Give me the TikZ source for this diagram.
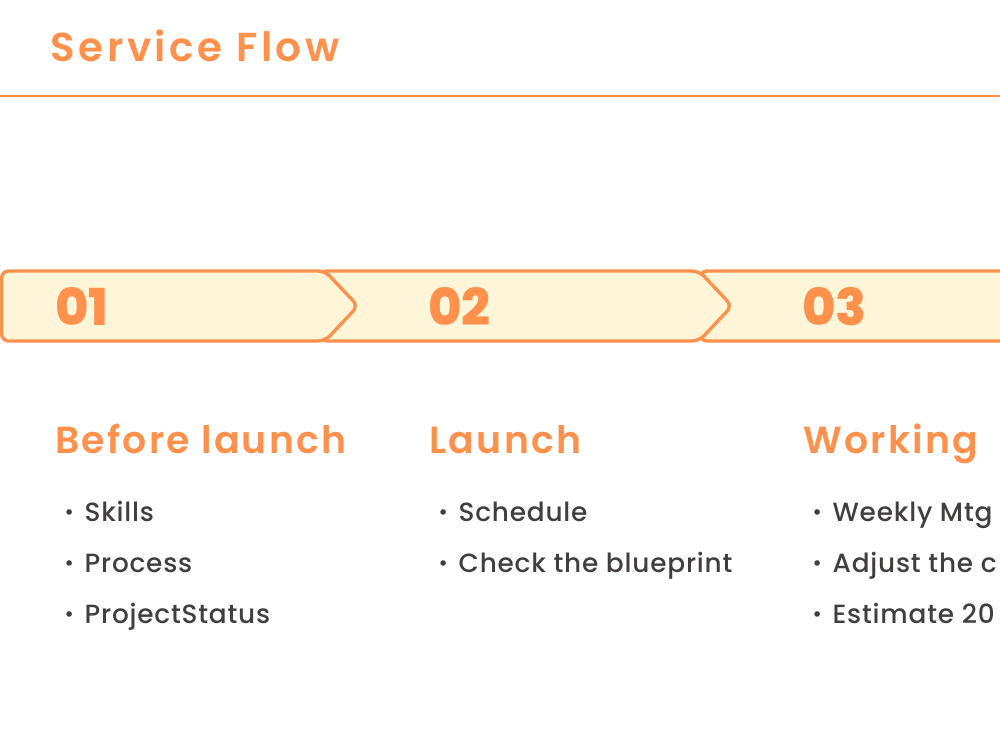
\documentclass[tikz,border=0pt]{standalone}
\usepackage{fontspec}
\setmainfont{Poppins}
\newfontfamily\semifont{Poppins SemiBold}
\newfontfamily\medfont{Poppins Medium}
\newfontfamily\heavyfont{Poppins ExtraBold}
\usetikzlibrary{positioning}
\definecolor{flowOrange}{RGB}{255,145,77}
\definecolor{flowCream}{RGB}{255,246,217}
\definecolor{itemGray}{RGB}{66,62,62}

\tikzset{
  segline/.style={draw=flowOrange,fill=flowCream,line width=1.9pt,rounded corners=4pt,line join=round},
  stepnum/.style={anchor=base west,text=flowOrange,font=\heavyfont\fontsize{29}{30}\selectfont,inner sep=0pt},
  stephead/.style={anchor=base west,text=flowOrange,font=\semifont\fontsize{21.5}{24}\selectfont\addfontfeatures{LetterSpace=6},inner sep=0pt},
  stepitem/.style={anchor=base west,text=itemGray,font=\medfont\fontsize{15}{18}\selectfont\addfontfeatures{LetterSpace=3},inner sep=0pt}
}
\newcommand\flowdot{\raisebox{1pt}{\fontsize{12}{12}\selectfont\textbullet}\hspace{6pt}}

\begin{document}
\begin{tikzpicture}[x=0.2mm,y=-0.2mm]
\useasboundingbox[clip] (0,0) rectangle (1000,750);

%% ── title and rule ───────────────────────────────────────────
\node[anchor=base west,text=flowOrange,inner sep=0pt,
  font=\semifont\fontsize{23}{26}\selectfont\addfontfeatures{LetterSpace=9}]
  (title) at (50,62) {Service Flow};
\draw[flowOrange,line width=1.3pt] (-5,96) -- (1005,96);

%% ── chevron band (drawn back to front) ───────────────────────
\path[segline] (700,271) -- (1040,271) -- (1040,341) -- (700,341) -- cycle;
\path[segline] (320,271) -- (699,271) -- (732,306) -- (699,341) -- (320,341) -- cycle;
\path[segline] (1.5,271) -- (325,271) -- (358,306) -- (325,341) -- (1.5,341) -- cycle;

%% step numbers
\node[stepnum] (num1) at (55,325) {01};
\node[stepnum] (num2) at (428,325) {02};
\node[stepnum] (num3) at (802,325) {03};

%% ── column 1 ─────────────────────────────────────────────────
\node[stephead] (head1) at (55,453) {Before launch};
\node[stepitem] (item11) at (64,521) {\flowdot Skills};
\node[stepitem] (item12) at (64,572) {\flowdot Process};
\node[stepitem] (item13) at (64,623) {\flowdot ProjectStatus};

%% ── column 2 ─────────────────────────────────────────────────
\node[stephead] (head2) at (429,453) {Launch};
\node[stepitem] (item21) at (438,521) {\flowdot Schedule};
\node[stepitem] (item22) at (438,572) {\flowdot Check the blueprint};

%% ── column 3 (runs off the right edge) ───────────────────────
\node[stephead] (head3) at (803,453) {Working};
\node[stepitem] (item31) at (812,521) {\flowdot Weekly Mtg};
\node[stepitem] (item32) at (812,572) {\flowdot Adjust the c};
\node[stepitem] (item33) at (812,623) {\flowdot Estimate 20};

\end{tikzpicture}
\end{document}
